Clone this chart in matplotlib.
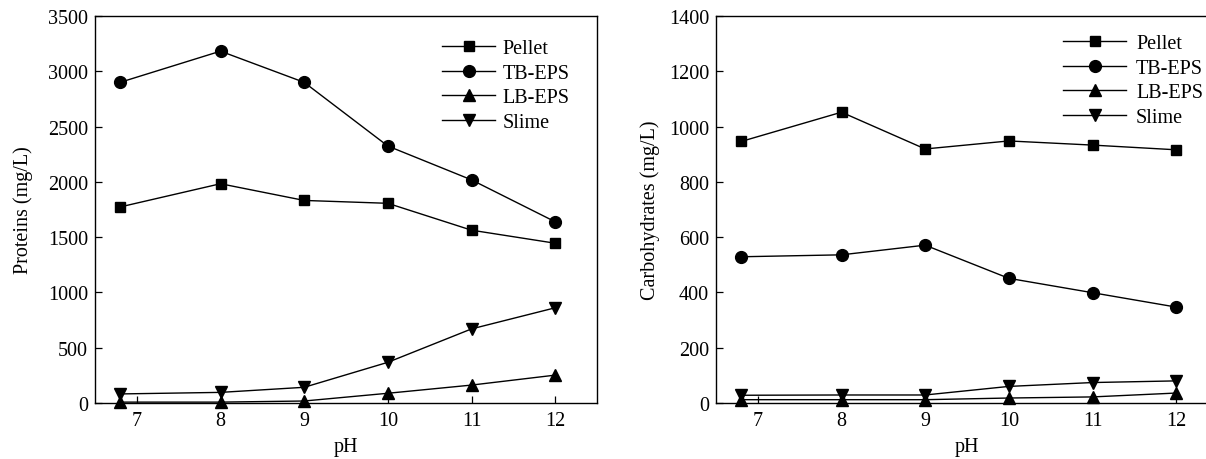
import matplotlib
matplotlib.use("Agg")
import matplotlib.pyplot as plt

plt.rcParams['font.family'] = ['Liberation Serif', 'DejaVu Serif']

ph = [6.8, 8, 9, 10, 11, 12]
xticks = [7, 8, 9, 10, 11, 12]
series_names = ["Pellet", "TB-EPS", "LB-EPS", "Slime"]
markers = ["s", "o", "^", "v"]

prot_pellet = [1773, 1983, 1832, 1806, 1563, 1445]
prot_tb = [2900, 3182, 2900, 2324, 2018, 1639]
prot_lb = [8, 8, 18, 88, 162, 252]
prot_slime = [82, 96, 142, 368, 670, 861]

carb_pellet = [946, 1052, 919, 948, 933, 916]
carb_tb = [529, 536, 571, 451, 399, 347]
carb_lb = [12, 12, 12, 18, 22, 36]
carb_slime = [28, 29, 29, 60, 74, 80]

W, H = 1206, 460
fig = plt.figure(figsize=(W / 100, H / 100), dpi=100)

def px_axes(l, r, t, b):
    return fig.add_axes([l / W, (H - b) / H, (r - l) / W, (b - t) / H])

ax1 = px_axes(95, 597, 17, 404)
ax2 = px_axes(716, 1218, 17, 404)

fs = 14.5
msizes = {"s": 7.5, "o": 8.5, "^": 9, "v": 9}

def draw(ax, data, ylim, yticks, ylabel, leg_anchor, handlelength, htp, labelpad):
    for name, m, vals in zip(series_names, markers, data):
        ax.plot(ph, vals, color="black", lw=1.0, marker=m, ms=msizes[m],
                mfc="black", mec="black", label=name, clip_on=False, zorder=3)
    ax.set_xlim(6.5, 12.5)
    ax.set_ylim(*ylim)
    ax.set_xticks(xticks)
    ax.set_yticks(yticks)
    ax.tick_params(direction="in", length=5, width=0.9, labelsize=fs, pad=5)
    ax.tick_params(axis="x", pad=6)
    for s in ax.spines.values():
        s.set_linewidth(1.0)
    ax.set_xlabel("pH", fontsize=fs, labelpad=5)
    ax.set_ylabel(ylabel, fontsize=fs, labelpad=labelpad)
    ax.legend(loc="upper right", bbox_to_anchor=leg_anchor, frameon=False,
              fontsize=fs, handlelength=handlelength, handletextpad=htp,
              labelspacing=0.28, borderpad=0, borderaxespad=0)

draw(ax1, [prot_pellet, prot_tb, prot_lb, prot_slime], (0, 3500),
     list(range(0, 3501, 500)), "Proteins (mg/L)", (0.946, 0.941), 2.6, 0.4, 11)
draw(ax2, [carb_pellet, carb_tb, carb_lb, carb_slime], (0, 1400),
     list(range(0, 1401, 200)), "Carbohydrates (mg/L)", (0.970, 0.954), 3.1, 0.5, 6)

fig.savefig("out.png", dpi=100)
